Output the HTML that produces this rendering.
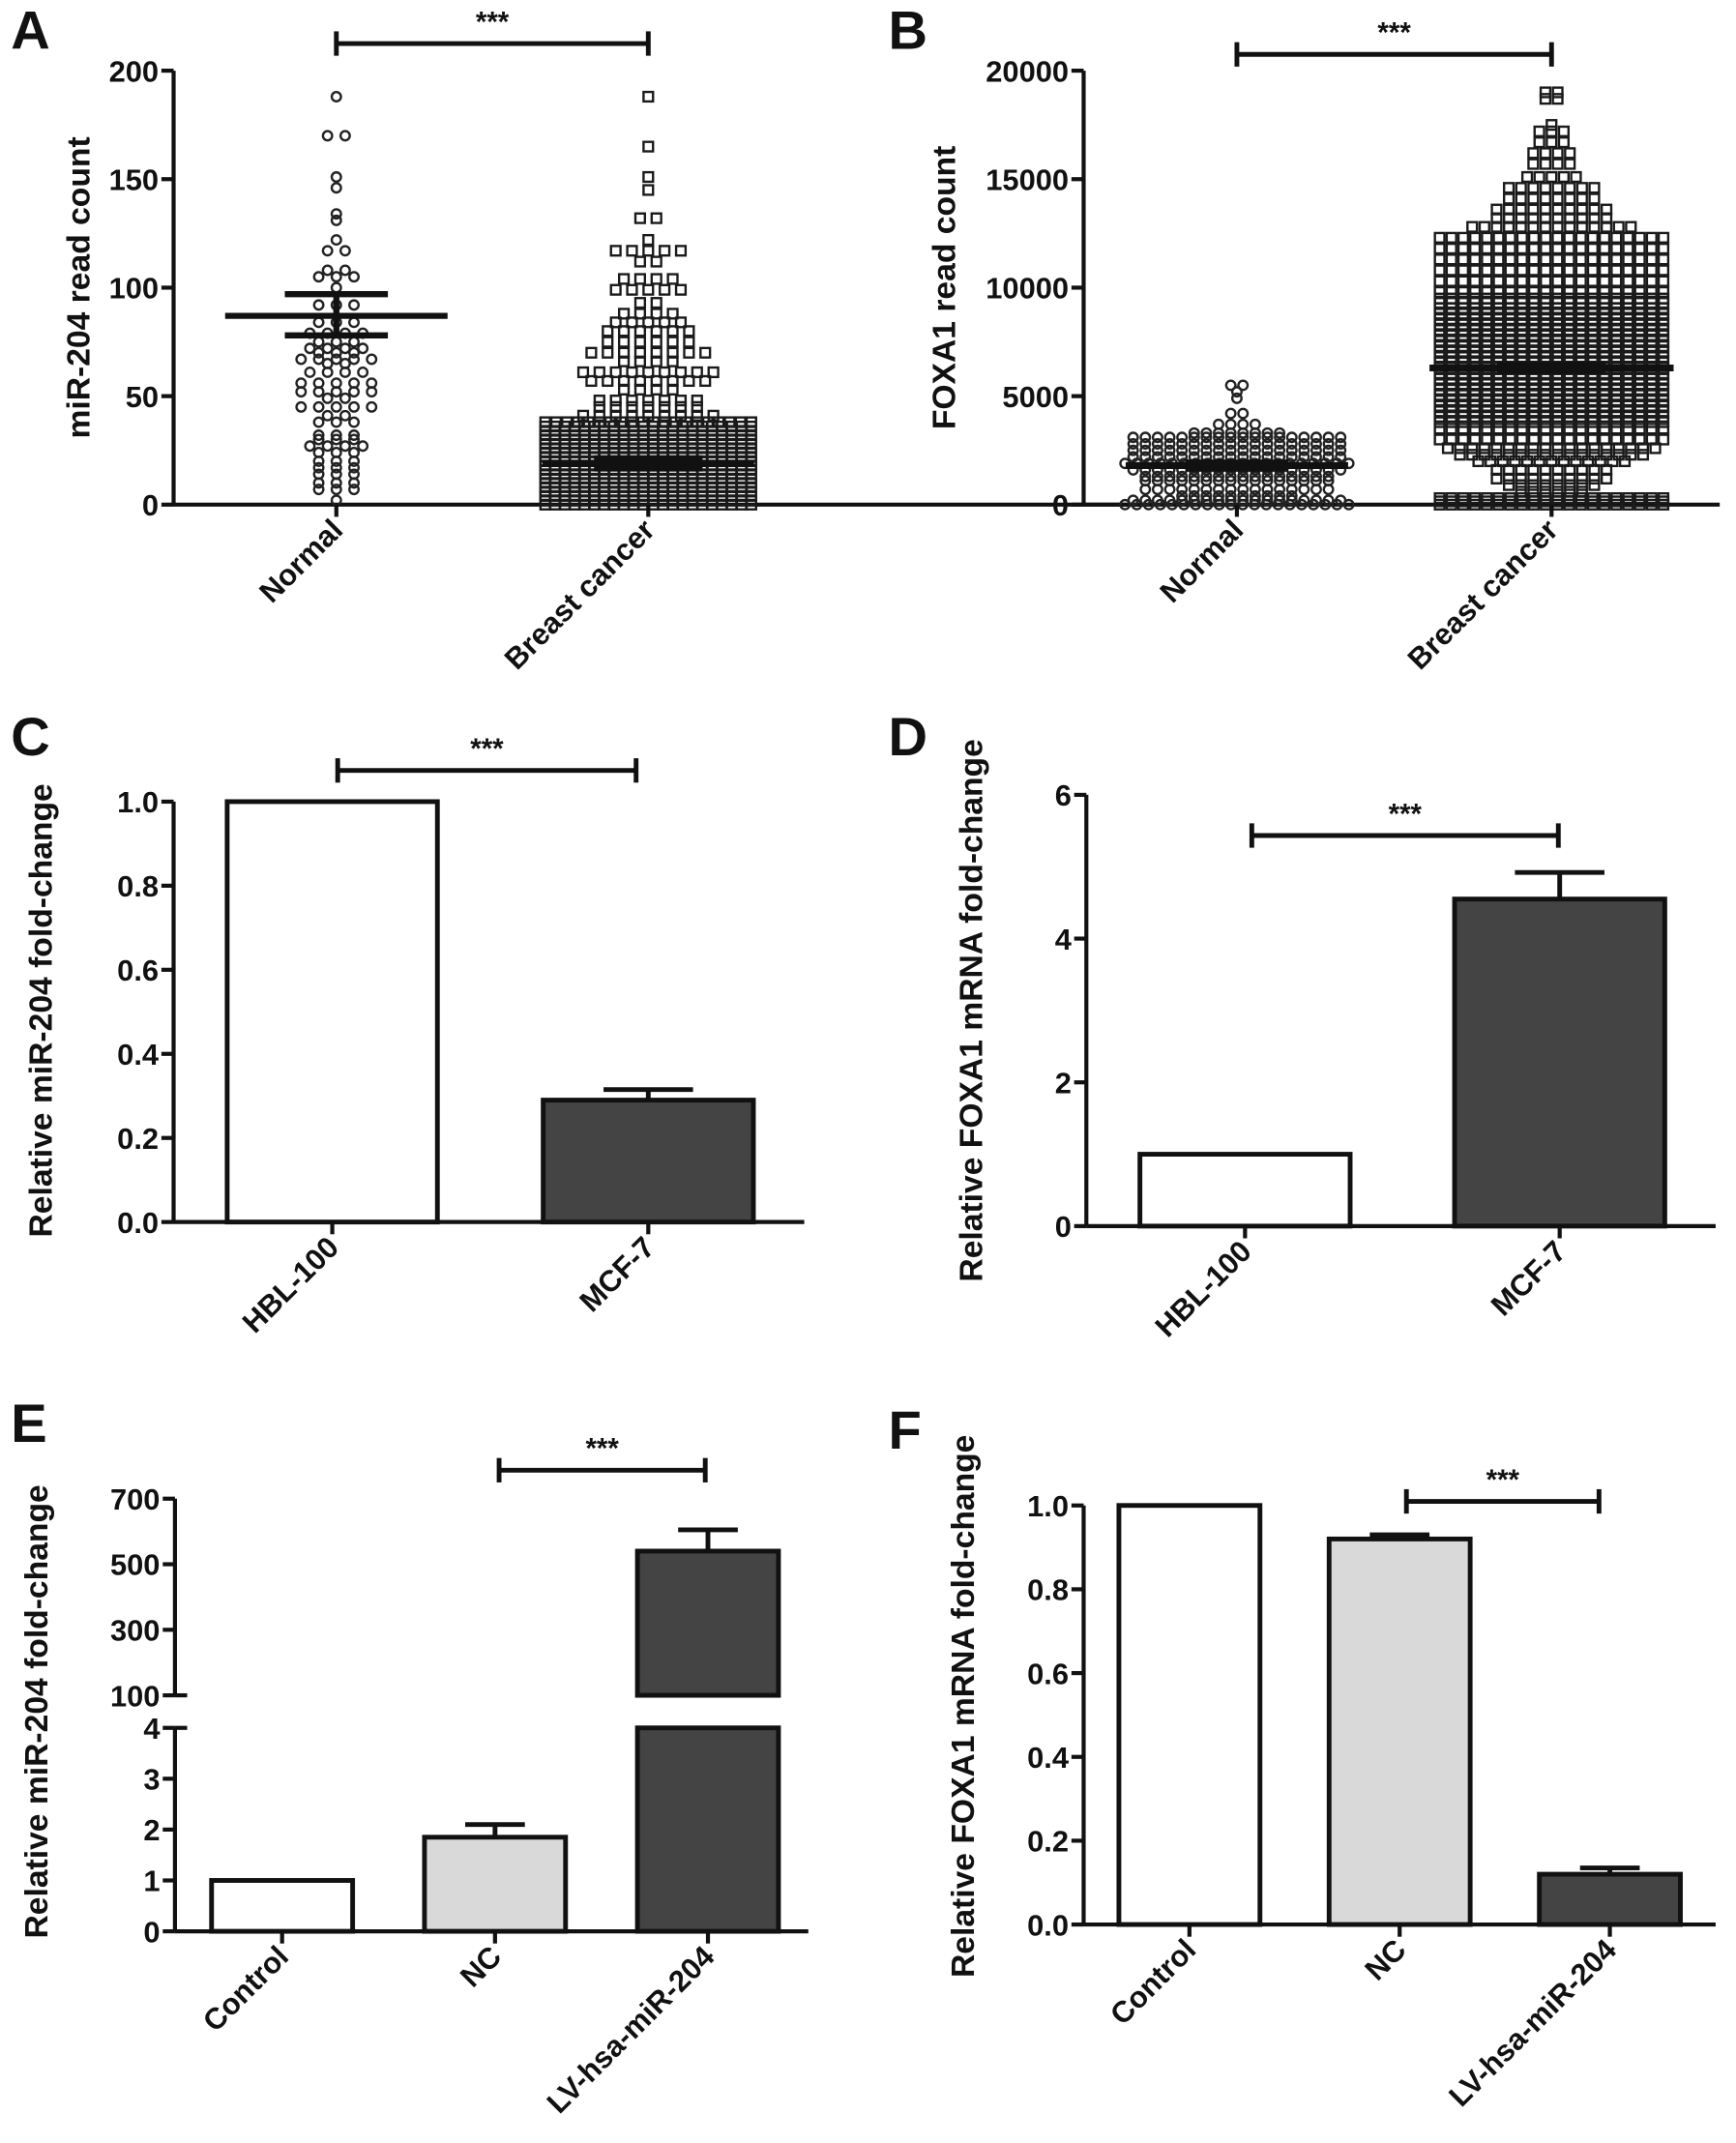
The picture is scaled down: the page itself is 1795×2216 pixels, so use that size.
<!DOCTYPE html>
<html><head><meta charset="utf-8">
<style>
html,body{margin:0;padding:0;background:#fff;}
svg{display:block;}
text{font-family:"Liberation Sans",Arial,sans-serif;font-weight:bold;fill:#111;}
</style></head>
<body>
<svg id="fig" xmlns="http://www.w3.org/2000/svg" width="1795" height="2216" viewBox="0 0 1280 1580"></svg>
<script>
// ---------- DATA ----------
const aNormalRows = [188,170,151,146,134,131,122,117,108,105,100,92,84,79,75,72,70,67,65,61,56,52,49,45,41,38,32,30,27,24,20,17,14,10,7,2];
const aNormalCounts = [1,2,1,1,1,1,1,2,2,3,1,3,3,4,3,4,3,5,2,4,5,5,2,5,2,3,3,3,4,3,3,3,3,3,3,1];
const aCancerRows = [188,165,151,145,132,122,117,112,104,99,93,88,84,80,75,70,66,61,57,53,48,45,41,38,36,34,32,30,28,26,24,22,20,18,16,14,12,10,8,6,4,2,0];
const aCancerCounts = [1,1,1,1,2,1,5,2,4,5,2,4,5,6,6,8,4,9,8,4,7,7,9,20,22,22,22,22,22,22,22,22,22,22,22,22,22,22,22,22,22,22,22];
const aMean = [87,19];
const aSemLow = [78,17];
const aSemHigh = [97,21];
const aTicks = [0,50,100,150,200];
const scatterCats = ["Normal","Breast cancer"];
const bNormalRows = [5500,5200,4900,4200,3700,3300,3100,2800,2500,2200,1900,1600,1300,1100,700,400,200,0];
const bNormalCounts = [2,1,1,2,4,8,18,18,18,18,20,18,16,16,16,10,18,20];
const bCancerRows = [19000,18700,17500,17200,16700,16200,15700,15100,14600,14100,13600,13200,12800,12300,11800,11300,10800,10300,9800,9500,9300,9050,8800,8550,8300,8050,7800,7550,7300,7050,6800,6550,6300,6050,5800,5550,5300,5050,4800,4550,4300,4050,3800,3500,3000,2600,2300,2000,1600,1200,900,600,300,150,0];
const bCancerCounts = [2,2,1,3,3,4,4,5,8,8,10,10,14,20,20,20,20,20,20,20,20,20,20,20,20,20,20,20,20,20,20,20,20,20,20,20,20,20,20,20,20,20,20,20,20,18,16,13,10,10,8,6,20,20,20];
const bMean = [1800,6300];
const bTicks = [0,5000,10000,15000,20000];
const cCats = ["HBL-100","MCF-7"];
const cValues = [1.0,0.29];
const cErrors = [0,0.025];
const cTicks = [0,0.2,0.4,0.6,0.8,1.0];
const cTickLabels = ["0.0","0.2","0.4","0.6","0.8","1.0"];
const dCats = ["HBL-100","MCF-7"];
const dValues = [1.0,4.55];
const dErrors = [0,0.37];
const dTicks = [0,2,4,6];
const eCats = ["Control","NC","LV-hsa-miR-204"];
const eValues = [1.0,1.85,540];
const eErrors = [0,0.25,65];
const eLowTicks = [0,1,2,3,4];
const eHighTicks = [100,300,500,700];
const fCats = ["Control","NC","LV-hsa-miR-204"];
const fValues = [1.0,0.92,0.12];
const fErrors = [0,0.01,0.015];
const fTicks = [0,0.2,0.4,0.6,0.8,1.0];
const fTickLabels = ["0.0","0.2","0.4","0.6","0.8","1.0"];

// ---------- HELPERS ----------
const svg = document.getElementById('fig');
const NS = 'http://www.w3.org/2000/svg';
function mk(tag, attrs, name, parent) {
  const el = document.createElementNS(NS, tag);
  for (const k in attrs) el.setAttribute(k, attrs[k]);
  
  
  (parent || svg).appendChild(el);
  return el;
}
function line(x1,y1,x2,y2,w,name,p){return mk('line',{x1,y1,x2,y2,stroke:'#111','stroke-width':w||3},name,p);}
function txt(x,y,s,size,anchor,name,p,rot){
  const a={x,y,'font-size':size,'text-anchor':anchor||'start'};
  if(rot!==undefined) a.transform='rotate('+rot+' '+x+' '+y+')';
  const t=mk('text',a,name,p); t.textContent=s; return t;
}
function scale(v0,v1,p0,p1){return v=>p0+(v-v0)/(v1-v0)*(p1-p0);}
function grp(name){return mk('g',{},name);}
function sigBar(x1,x2,y,p){
  line(x1,y,x2,y,3.5,'significance-bar',p);
  line(x1,y-9,x1,y+9,3.5,'significance-bar-cap-left',p);
  line(x2,y-9,x2,y+9,3.5,'significance-bar-cap-right',p);
  txt((x1+x2)/2,y-9,'***',21,'middle','significance-stars',p);
}
function yAxis(x,yTop,yBot,p){line(x,yTop,x,yBot,3,'y-axis-line',p);}
function xAxis(x1,x2,y,p){line(x1,y,x2,y,3,'x-axis-line',p);}
function yTick(x,y,label,p){line(x-9,y,x,y,3,'y-tick',p);txt(x-11,y+8,label,22,'end','y-tick-label',p);}
function xTick(x,y,label,p){line(x,y,x,y+9,3,'x-tick',p);txt(x+6,y+20,label,22,'end','x-tick-label',p,-45);}
function swarm(rows,counts,cx,ys,shape,sp,maxW,p){
  for(let i=0;i<rows.length;i++){
    const n=counts[i], y=ys(rows[i]);
    const s=n>1?Math.min(sp,maxW/(n-1)):sp;
    for(let j=0;j<n;j++){
      const x=cx+(j-(n-1)/2)*s;
      if(shape==='c'){
        mk('circle',{cx:x,cy:y,r:3.4,fill:'none',stroke:'#222','stroke-width':1.7},'data-point',p);
      } else {
        mk('rect',{x:x-3.5,y:y-3.5,width:7,height:7,fill:'none',stroke:'#1a1a1a','stroke-width':1.7},'data-point',p);
      }
    }
  }
}

// ---------- PANEL A ----------
(function(){
  const p=grp('panel-a');
  txt(8,36,'A',40,'start','panel-label',p);
  const ys=scale(0,200,372,52);
  const xs=[248,478];
  yAxis(128,52,372,p); xAxis(128,850,372,p);
  aTicks.forEach(t=>yTick(128,ys(t),String(t),p));
  swarm(aNormalRows,aNormalCounts,xs[0],ys,'c',13,80,p);
  swarm(aCancerRows,aCancerCounts,xs[1],ys,'s',12,152,p);
  line(xs[0]-82,ys(aMean[0]),xs[0]+82,ys(aMean[0]),4.5,'mean-line-normal',p);
  line(xs[0]-38,ys(aSemLow[0]),xs[0]+38,ys(aSemLow[0]),4.5,'sem-low-normal',p);
  line(xs[0]-38,ys(aSemHigh[0]),xs[0]+38,ys(aSemHigh[0]),4.5,'sem-high-normal',p);
  line(xs[0],ys(aSemLow[0]),xs[0],ys(aSemHigh[0]),4.5,'sem-bar-normal',p);
  line(xs[1]-78,ys(aMean[1]),xs[1]+78,ys(aMean[1]),5,'mean-line-cancer',p);
  line(xs[1]-40,ys(aMean[1]),xs[1]+40,ys(aMean[1]),12,'sem-cancer',p);
  scatterCats.forEach((c,i)=>xTick(xs[i],372,c,p));
  txt(66,212,'miR-204 read count',24,'middle','y-axis-title',p,-90);
  sigBar(xs[0],xs[1],32,p);
})();

// ---------- PANEL B ----------
(function(){
  const p=grp('panel-b');
  txt(655,36,'B',40,'start','panel-label',p);
  const ys=scale(0,20000,372,52);
  const xs=[912,1144];
  yAxis(799,52,372,p); xAxis(799,1268,372,p);
  bTicks.forEach(t=>yTick(799,ys(t),String(t),p));
  swarm(bNormalRows,bNormalCounts,xs[0],ys,'c',9,165,p);
  swarm(bCancerRows,bCancerCounts,xs[1],ys,'s',9,165,p);
  line(xs[0]-82,ys(bMean[0]),xs[0]+82,ys(bMean[0]),5,'mean-line-normal',p);
  line(xs[0]-38,ys(bMean[0]),xs[0]+38,ys(bMean[0]),9,'sem-normal',p);
  line(xs[1]-90,ys(bMean[1]),xs[1]+90,ys(bMean[1]),5,'mean-line-cancer',p);
  line(xs[1]-40,ys(bMean[1]),xs[1]+40,ys(bMean[1]),9,'sem-cancer',p);
  scatterCats.forEach((c,i)=>xTick(xs[i],372,c,p));
  txt(704,212,'FOXA1 read count',24,'middle','y-axis-title',p,-90);
  sigBar(xs[0],xs[1],40,p);
})();

// ---------- BAR PANEL ----------
function barPanel(o){
  const p=grp(o.name);
  txt(o.lx,o.ly,o.letter,40,'start','panel-label',p);
  const ys=scale(o.vmin,o.vmax,o.y0,o.y1);
  yAxis(o.ax,o.y1,o.y0,p); xAxis(o.ax,o.axEnd,o.y0,p);
  o.ticks.forEach((t,i)=>yTick(o.ax,ys(t),o.tickLabels?o.tickLabels[i]:String(t),p));
  o.cats.forEach((c,i)=>{
    const cx=o.x0+i*o.step, w=o.bw;
    if(o.errs[i]>0){
      const ye=ys(o.vals[i]+o.errs[i]);
      line(cx,ys(o.vals[i]),cx,ye,3.5,'error-bar',p);
      line(cx-o.cap,ye,cx+o.cap,ye,3.5,'error-cap',p);
    }
    mk('rect',{x:cx-w/2,y:ys(o.vals[i]),width:w,height:o.y0-ys(o.vals[i]),fill:o.fills[i],stroke:'#111','stroke-width':3.5},'bar-'+c.toLowerCase(),p);
    xTick(cx,o.y0,c,p);
  });
  txt(o.tx,o.ty,o.title,24,'middle','y-axis-title',p,-90);
  sigBar(o.sx1,o.sx2,o.sy,p);
}
barPanel({name:'panel-c',letter:'C',lx:8,ly:557,vmin:0,vmax:1,y0:901,y1:591,ax:128,axEnd:593,ticks:cTicks,tickLabels:cTickLabels,
  cats:cCats,vals:cValues,errs:cErrors,x0:245,step:233,bw:155,cap:33,fills:['#fff','#444'],
  tx:38,ty:745,title:'Relative miR-204 fold-change',sx1:249,sx2:469,sy:568});
barPanel({name:'panel-d',letter:'D',lx:655,ly:557,vmin:0,vmax:6,y0:904,y1:586,ax:801,axEnd:1265,ticks:dTicks,
  cats:dCats,vals:dValues,errs:dErrors,x0:918,step:232,bw:155,cap:33,fills:['#fff','#444'],
  tx:724,ty:745,title:'Relative FOXA1 mRNA fold-change',sx1:923,sx2:1149,sy:616});
barPanel({name:'panel-f',letter:'F',lx:655,ly:1068,vmin:0,vmax:1,y0:1419,y1:1110,ax:799,axEnd:1265,ticks:fTicks,tickLabels:fTickLabels,
  cats:fCats,vals:fValues,errs:fErrors,x0:877,step:155,bw:104,cap:22,fills:['#fff','#d9d9d9','#444'],
  tx:718,ty:1258,title:'Relative FOXA1 mRNA fold-change',sx1:1037,sx2:1179,sy:1107});

// ---------- PANEL E (broken axis) ----------
(function(){
  const p=grp('panel-e');
  txt(8,1063,'E',40,'start','panel-label',p);
  const yl=scale(0,4,1424,1274), yh=scale(100,700,1250,1105);
  const ax=129, y0=1424;
  line(ax,1274,ax,1424,3,'y-axis-lower',p);
  line(ax,1105,ax,1250,3,'y-axis-upper',p);
  line(ax,1274,ax+9,1274,3,'axis-break-tick',p);
  line(ax,1250,ax+9,1250,3,'axis-break-tick',p);
  xAxis(ax,596,y0,p);
  eLowTicks.forEach(t=>yTick(ax,yl(t),String(t),p));
  eHighTicks.forEach(t=>yTick(ax,yh(t),String(t),p));
  const fills=['#fff','#d9d9d9','#444'];
  eCats.forEach((c,i)=>{
    const cx=208+i*157, w=104, v=eValues[i], e=eErrors[i];
    if(v<=4){
      if(e>0){const ye=yl(v+e);line(cx,yl(v),cx,ye,3.5,'error-bar',p);line(cx-22,ye,cx+22,ye,3.5,'error-cap',p);}
      mk('rect',{x:cx-w/2,y:yl(v),width:w,height:y0-yl(v),fill:fills[i],stroke:'#111','stroke-width':3.5},'bar-'+c.toLowerCase(),p);
    } else {
      const ye=yh(v+e);line(cx,yh(v),cx,ye,3.5,'error-bar',p);line(cx-22,ye,cx+22,ye,3.5,'error-cap',p);
      mk('rect',{x:cx-w/2,y:yh(v),width:w,height:yh(100)-yh(v),fill:fills[i],stroke:'#111','stroke-width':3.5},'bar-upper-segment',p);
      mk('rect',{x:cx-w/2,y:yl(4),width:w,height:y0-yl(4),fill:fills[i],stroke:'#111','stroke-width':3.5},'bar-lower-segment',p);
    }
    xTick(cx,y0,c,p);
  });
  txt(35,1262,'Relative miR-204 fold-change',24,'middle','y-axis-title',p,-90);
  sigBar(368,520,1084,p);
})();
</script>
</body></html>
